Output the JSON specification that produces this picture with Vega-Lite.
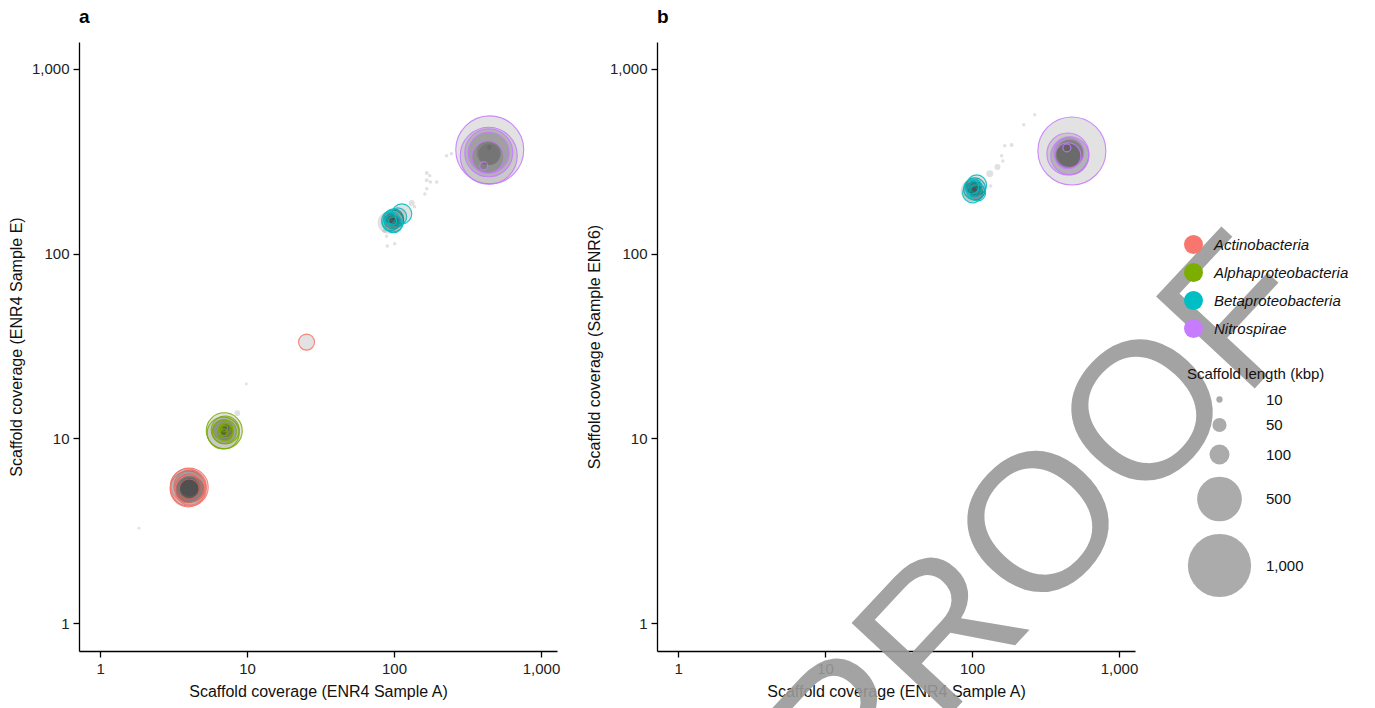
{
  "$schema": "https://vega.github.io/schema/vega-lite/v6.json",
  "background": "white",
  "padding": {"left": 8, "top": 8, "right": 5, "bottom": 5},
  "datasets": {
    "pts": [
      {"panel": "a", "x": 1.84, "y": 3.27, "kbp": 2, "taxon": "Unclassified"},
      {"panel": "a", "x": 9.9, "y": 19.7, "kbp": 2, "taxon": "Unclassified"},
      {"panel": "a", "x": 8.59, "y": 13.7, "kbp": 8, "taxon": "Unclassified"},
      {"panel": "a", "x": 132, "y": 188, "kbp": 9, "taxon": "Unclassified"},
      {"panel": "a", "x": 138, "y": 179, "kbp": 3, "taxon": "Unclassified"},
      {"panel": "a", "x": 167, "y": 273, "kbp": 4, "taxon": "Unclassified"},
      {"panel": "a", "x": 175, "y": 264, "kbp": 3, "taxon": "Unclassified"},
      {"panel": "a", "x": 177, "y": 244, "kbp": 3, "taxon": "Unclassified"},
      {"panel": "a", "x": 195, "y": 244, "kbp": 3, "taxon": "Unclassified"},
      {"panel": "a", "x": 167, "y": 249, "kbp": 4, "taxon": "Unclassified"},
      {"panel": "a", "x": 167, "y": 224, "kbp": 3, "taxon": "Unclassified"},
      {"panel": "a", "x": 162, "y": 210, "kbp": 3, "taxon": "Unclassified"},
      {"panel": "a", "x": 89, "y": 124, "kbp": 3, "taxon": "Unclassified"},
      {"panel": "a", "x": 101, "y": 113, "kbp": 3, "taxon": "Unclassified"},
      {"panel": "a", "x": 90, "y": 110, "kbp": 3, "taxon": "Unclassified"},
      {"panel": "a", "x": 86, "y": 133, "kbp": 4, "taxon": "Unclassified"},
      {"panel": "a", "x": 228, "y": 338, "kbp": 3, "taxon": "Unclassified"},
      {"panel": "a", "x": 246, "y": 347, "kbp": 3, "taxon": "Unclassified"},
      {"panel": "a", "x": 92, "y": 147, "kbp": 121, "taxon": "Unclassified"},
      {"panel": "a", "x": 4.04, "y": 5.4, "kbp": 110, "taxon": "Unclassified"},
      {"panel": "a", "x": 4.06, "y": 5.42, "kbp": 90, "taxon": "Unclassified"},
      {"panel": "a", "x": 4.02, "y": 5.38, "kbp": 100, "taxon": "Unclassified"},
      {"panel": "a", "x": 4.05, "y": 5.45, "kbp": 80, "taxon": "Unclassified"},
      {"panel": "a", "x": 441, "y": 351, "kbp": 150, "taxon": "Unclassified"},
      {"panel": "a", "x": 445, "y": 345, "kbp": 120, "taxon": "Unclassified"},
      {"panel": "a", "x": 445, "y": 375, "kbp": 6, "taxon": "Unclassified"},
      {"panel": "a", "x": 448, "y": 364, "kbp": 1156, "taxon": "Nitrospirae"},
      {"panel": "a", "x": 441, "y": 338, "kbp": 812, "taxon": "Nitrospirae"},
      {"panel": "a", "x": 441, "y": 351, "kbp": 576, "taxon": "Nitrospirae"},
      {"panel": "a", "x": 441, "y": 351, "kbp": 420, "taxon": "Nitrospirae"},
      {"panel": "a", "x": 435, "y": 333, "kbp": 256, "taxon": "Nitrospirae"},
      {"panel": "a", "x": 408, "y": 298, "kbp": 16, "taxon": "Nitrospirae"},
      {"panel": "a", "x": 97.8, "y": 150, "kbp": 121, "taxon": "Betaproteobacteria"},
      {"panel": "a", "x": 99.4, "y": 154, "kbp": 100, "taxon": "Betaproteobacteria"},
      {"panel": "a", "x": 113, "y": 164, "kbp": 100, "taxon": "Betaproteobacteria"},
      {"panel": "a", "x": 106, "y": 158, "kbp": 81, "taxon": "Betaproteobacteria"},
      {"panel": "a", "x": 94.8, "y": 147, "kbp": 64, "taxon": "Betaproteobacteria"},
      {"panel": "a", "x": 97.8, "y": 154, "kbp": 49, "taxon": "Betaproteobacteria"},
      {"panel": "a", "x": 101, "y": 148, "kbp": 36, "taxon": "Betaproteobacteria"},
      {"panel": "a", "x": 96.3, "y": 152, "kbp": 25, "taxon": "Betaproteobacteria"},
      {"panel": "a", "x": 99.4, "y": 145, "kbp": 81, "taxon": "Betaproteobacteria"},
      {"panel": "a", "x": 93.3, "y": 156, "kbp": 36, "taxon": "Betaproteobacteria"},
      {"panel": "a", "x": 97.8, "y": 150, "kbp": 16, "taxon": "Betaproteobacteria"},
      {"panel": "a", "x": 25.4, "y": 33.2, "kbp": 64, "taxon": "Actinobacteria"},
      {"panel": "a", "x": 7.0, "y": 11.0, "kbp": 324, "taxon": "Alphaproteobacteria"},
      {"panel": "a", "x": 6.89, "y": 10.7, "kbp": 256, "taxon": "Alphaproteobacteria"},
      {"panel": "a", "x": 7.11, "y": 11.1, "kbp": 196, "taxon": "Alphaproteobacteria"},
      {"panel": "a", "x": 7.0, "y": 10.9, "kbp": 144, "taxon": "Alphaproteobacteria"},
      {"panel": "a", "x": 6.89, "y": 11.1, "kbp": 100, "taxon": "Alphaproteobacteria"},
      {"panel": "a", "x": 7.11, "y": 10.7, "kbp": 64, "taxon": "Alphaproteobacteria"},
      {"panel": "a", "x": 7.0, "y": 11.2, "kbp": 36, "taxon": "Alphaproteobacteria"},
      {"panel": "a", "x": 7.11, "y": 11.4, "kbp": 25, "taxon": "Alphaproteobacteria"},
      {"panel": "a", "x": 6.89, "y": 10.6, "kbp": 16, "taxon": "Alphaproteobacteria"},
      {"panel": "a", "x": 7.2, "y": 11.0, "kbp": 49, "taxon": "Alphaproteobacteria"},
      {"panel": "a", "x": 7.05, "y": 11.3, "kbp": 9, "taxon": "Alphaproteobacteria"},
      {"panel": "a", "x": 6.95, "y": 10.8, "kbp": 12, "taxon": "Alphaproteobacteria"},
      {"panel": "a", "x": 4.04, "y": 5.45, "kbp": 361, "taxon": "Actinobacteria"},
      {"panel": "a", "x": 3.98, "y": 5.33, "kbp": 324, "taxon": "Actinobacteria"},
      {"panel": "a", "x": 4.1, "y": 5.52, "kbp": 256, "taxon": "Actinobacteria"},
      {"panel": "a", "x": 4.04, "y": 5.39, "kbp": 196, "taxon": "Actinobacteria"},
      {"panel": "a", "x": 3.98, "y": 5.45, "kbp": 144, "taxon": "Actinobacteria"},
      {"panel": "a", "x": 4.04, "y": 5.33, "kbp": 100, "taxon": "Actinobacteria"},
      {"panel": "a", "x": 3.95, "y": 5.55, "kbp": 289, "taxon": "Actinobacteria"},
      {"panel": "a", "x": 4.1, "y": 5.25, "kbp": 225, "taxon": "Actinobacteria"},
      {"panel": "b", "x": 267, "y": 563, "kbp": 3, "taxon": "Unclassified"},
      {"panel": "b", "x": 225, "y": 497, "kbp": 3, "taxon": "Unclassified"},
      {"panel": "b", "x": 186, "y": 387, "kbp": 4, "taxon": "Unclassified"},
      {"panel": "b", "x": 167, "y": 383, "kbp": 3, "taxon": "Unclassified"},
      {"panel": "b", "x": 159, "y": 338, "kbp": 3, "taxon": "Unclassified"},
      {"panel": "b", "x": 149, "y": 294, "kbp": 9, "taxon": "Unclassified"},
      {"panel": "b", "x": 132, "y": 270, "kbp": 12, "taxon": "Unclassified"},
      {"panel": "b", "x": 134, "y": 232, "kbp": 3, "taxon": "Unclassified"},
      {"panel": "b", "x": 162, "y": 317, "kbp": 3, "taxon": "Unclassified"},
      {"panel": "b", "x": 99.4, "y": 218, "kbp": 121, "taxon": "Unclassified"},
      {"panel": "b", "x": 460, "y": 345, "kbp": 200, "taxon": "Unclassified"},
      {"panel": "b", "x": 455, "y": 340, "kbp": 150, "taxon": "Unclassified"},
      {"panel": "b", "x": 465, "y": 350, "kbp": 180, "taxon": "Unclassified"},
      {"panel": "b", "x": 478, "y": 359, "kbp": 1156, "taxon": "Nitrospirae"},
      {"panel": "b", "x": 449, "y": 346, "kbp": 441, "taxon": "Nitrospirae"},
      {"panel": "b", "x": 463, "y": 338, "kbp": 361, "taxon": "Nitrospirae"},
      {"panel": "b", "x": 456, "y": 352, "kbp": 225, "taxon": "Nitrospirae"},
      {"panel": "b", "x": 449, "y": 338, "kbp": 169, "taxon": "Nitrospirae"},
      {"panel": "b", "x": 442, "y": 373, "kbp": 16, "taxon": "Nitrospirae"},
      {"panel": "b", "x": 104.2, "y": 223.8, "kbp": 121, "taxon": "Betaproteobacteria"},
      {"panel": "b", "x": 107.5, "y": 235.2, "kbp": 100, "taxon": "Betaproteobacteria"},
      {"panel": "b", "x": 100.9, "y": 212.9, "kbp": 100, "taxon": "Betaproteobacteria"},
      {"panel": "b", "x": 105.8, "y": 218.3, "kbp": 81, "taxon": "Betaproteobacteria"},
      {"panel": "b", "x": 102.5, "y": 229.4, "kbp": 64, "taxon": "Betaproteobacteria"},
      {"panel": "b", "x": 104.2, "y": 221.0, "kbp": 49, "taxon": "Betaproteobacteria"},
      {"panel": "b", "x": 105.8, "y": 232.3, "kbp": 36, "taxon": "Betaproteobacteria"},
      {"panel": "b", "x": 100.9, "y": 218.3, "kbp": 25, "taxon": "Betaproteobacteria"},
      {"panel": "b", "x": 104.2, "y": 223.8, "kbp": 16, "taxon": "Betaproteobacteria"},
      {"panel": "b", "x": 109.2, "y": 212.9, "kbp": 64, "taxon": "Betaproteobacteria"},
      {"panel": "b", "x": 99.4, "y": 229.4, "kbp": 49, "taxon": "Betaproteobacteria"}
    ],
    "mark": [
      {"label": "PROOF", "x": 312, "y": 3.31}
    ]
  },
  "hconcat": [
    {
      "title": {"text": "a", "anchor": "start", "frame": "group", "fontSize": 19, "fontWeight": "bold", "offset": 15, "font": "Liberation Sans", "color": "black"},
      "width": 478,
      "height": 609,
      "data": {"name": "pts"},
      "transform": [{"filter": "datum.panel === 'a'"}],
      "encoding": {
        "x": {"field": "x", "type": "quantitative", "scale": {"type": "log", "domain": [0.719, 1285], "nice": false, "zero": false}, "axis": {"values": [1, 10, 100, 1000], "format": ",", "title": "Scaffold coverage (ENR4 Sample A)"}},
        "y": {"field": "y", "type": "quantitative", "scale": {"type": "log", "domain": [0.708, 1395], "nice": false, "zero": false}, "axis": {"values": [1, 10, 100, 1000], "format": ",", "title": "Scaffold coverage (ENR4 Sample E)"}},
        "size": {"field": "kbp", "type": "quantitative", "scale": {"domain": [0, 1200], "range": [0, 4800]}, "legend": null}
      },
      "layer": [
        {"transform": [{"filter": "datum.taxon === 'Unclassified'"}], "mark": {"type": "circle", "fill": "#333333", "fillOpacity": 0.15, "strokeWidth": 0}},
        {"transform": [{"filter": "datum.taxon !== 'Unclassified'"}], "mark": {"type": "circle", "fill": "#333333", "fillOpacity": 0.14, "strokeWidth": 1.1, "strokeOpacity": 0.9},
         "encoding": {"stroke": {"field": "taxon", "type": "nominal", "legend": null,
           "scale": {"domain": ["Actinobacteria", "Alphaproteobacteria", "Betaproteobacteria", "Nitrospirae"], "range": ["#F8766D", "#7CAE00", "#00BFC4", "#C77CFF"]}}}}
      ]
    },
    {
      "title": {"text": "b", "anchor": "start", "frame": "group", "fontSize": 19, "fontWeight": "bold", "offset": 15, "font": "Liberation Sans", "color": "black"},
      "width": 478,
      "height": 609,
      "encoding": {
        "x": {"field": "x", "type": "quantitative", "scale": {"type": "log", "domain": [0.719, 1285], "nice": false, "zero": false}, "axis": {"values": [1, 10, 100, 1000], "format": ",", "title": "Scaffold coverage (ENR4 Sample A)"}},
        "y": {"field": "y", "type": "quantitative", "scale": {"type": "log", "domain": [0.708, 1395], "nice": false, "zero": false}, "axis": {"values": [1, 10, 100, 1000], "format": ",", "title": "Scaffold coverage (Sample ENR6)"}}
      },
      "layer": [
        {"data": {"name": "pts"}, "transform": [{"filter": "datum.panel === 'b' && datum.taxon === 'Unclassified'"}], "mark": {"type": "circle", "fill": "#333333", "fillOpacity": 0.15, "strokeWidth": 0},
         "encoding": {"size": {"field": "kbp", "type": "quantitative", "scale": {"domain": [0, 1200], "range": [0, 4800]}, "legend": null}}},
        {"data": {"name": "pts"}, "transform": [{"filter": "datum.panel === 'b' && datum.taxon !== 'Unclassified'"}], "mark": {"type": "circle", "fill": "#333333", "fillOpacity": 0.14, "strokeWidth": 1.1, "strokeOpacity": 0.9},
         "encoding": {"size": {"field": "kbp", "type": "quantitative", "scale": {"domain": [0, 1200], "range": [0, 4800]}, "legend": null},
           "stroke": {"field": "taxon", "type": "nominal", "legend": null, "scale": {"domain": ["Actinobacteria", "Alphaproteobacteria", "Betaproteobacteria", "Nitrospirae"], "range": ["#F8766D", "#7CAE00", "#00BFC4", "#C77CFF"]}}}},
        {"data": {"name": "pts"}, "transform": [{"filter": "datum.panel === 'b' && datum.taxon !== 'Unclassified'"}], "mark": {"type": "circle", "opacity": 0, "strokeWidth": 0},
         "encoding": {"fill": {"field": "taxon", "type": "nominal", "scale": {"domain": ["Actinobacteria", "Alphaproteobacteria", "Betaproteobacteria", "Nitrospirae"], "range": ["#F8766D", "#7CAE00", "#00BFC4", "#C77CFF"]},
           "legend": {"title": null, "orient": "none", "legendX": 527, "legendY": 193, "symbolType": "circle", "symbolSize": 360, "rowPadding": 9, "labelFontStyle": "italic", "labelOffset": 11, "symbolOpacity": 1, "symbolStrokeWidth": 0}}}},
        {"data": {"name": "pts"}, "transform": [{"filter": "datum.panel === 'b' && datum.taxon !== 'Unclassified'"}], "mark": {"type": "point", "shape": "circle", "filled": false, "fill": "#ababab", "fillOpacity": 1, "color": "#111111", "stroke": "#111111", "strokeWidth": 1, "opacity": 0},
         "encoding": {
           "size": {"field": "kbp", "type": "quantitative", "scale": {"domain": [0, 1200], "range": [0, 4800]}, "title": "Scaffold length (kbp)",
           "legend": {"orient": "none", "legendX": 530, "legendY": 325, "values": [10, 50, 100, 500, 1000], "labelExpr": "format(datum.value, ',')", "symbolType": "circle", "rowPadding": 7, "titlePadding": 10, "labelOffset": 14, "symbolOpacity": 1, "symbolFillColor": "#ababab", "symbolStrokeColor": "#111111", "symbolStrokeWidth": 1}}}},
        {"data": {"name": "mark"}, "mark": {"type": "text", "angle": 313, "fontSize": 196, "font": "Liberation Sans", "color": "#9a9a9a", "opacity": 0.9, "align": "center", "baseline": "middle"},
         "encoding": {"text": {"field": "label", "type": "nominal"}}}
      ],
      "resolve": {"legend": {"size": "independent", "stroke": "independent", "fill": "independent"}}
    }
  ],
  "spacing": 26,
  "resolve": {"scale": {"stroke": "shared", "size": "shared"}, "legend": {"stroke": "independent", "size": "independent", "fill": "independent"}},
  "config": {
    "view": {"stroke": null},
    "font": "Liberation Sans",
    "axis": {"grid": false, "domainColor": "black", "domainWidth": 1.3, "tickColor": "black", "tickWidth": 1.3, "tickSize": 6, "labelFont": "Liberation Sans", "labelFontSize": 15, "labelColor": "#222222", "labelPadding": 4, "titleFont": "Liberation Sans", "titleFontSize": 16, "titleFontWeight": "normal", "titleColor": "#111111", "zindex": 1},
    "axisX": {"titlePadding": 7},
    "axisY": {"titlePadding": 7},
    "legend": {"labelFont": "Liberation Sans", "labelFontSize": 15, "labelColor": "#111111", "titleFont": "Liberation Sans", "titleFontSize": 15, "titleFontWeight": "normal", "titleColor": "#111111"}
  }
}
